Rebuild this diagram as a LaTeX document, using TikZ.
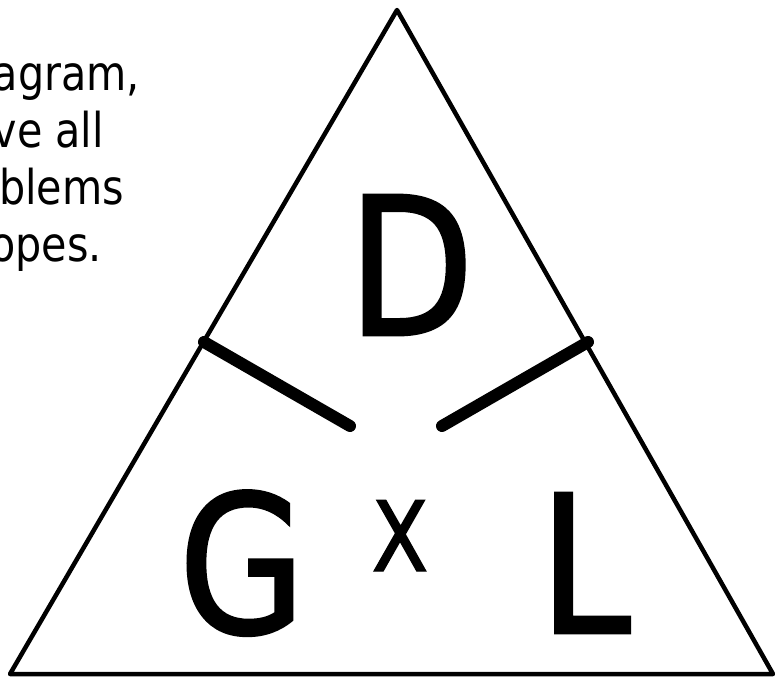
\documentclass[tikz,border=0pt]{standalone}
\usepackage{fontspec}
\setmainfont{DejaVu Sans}[FakeStretch=0.86]
\newfontfamily\bigfont{DejaVu Sans}[FakeStretch=0.85, FakeBold=1.5]
\tikzset{
  edge/.style={line width=4.5pt, line join=round},
  tick/.style={line width=12pt, line cap=round},
  caption/.style={anchor=base east, inner sep=0pt, font=\fontsize{48pt}{56pt}\selectfont},
  bigletter/.style={anchor=base, inner sep=0pt, font=\bigfont\fontsize{192pt}{200pt}\selectfont},
  smallletter/.style={anchor=base, inner sep=0pt, font=\bigfont\fontsize{97pt}{100pt}\selectfont}
}
\begin{document}
\begin{tikzpicture}[x=1pt, y=-1pt]
\useasboundingbox (0,0) rectangle (775,678);
\fill[white] (0,0) rectangle (775,678);
\coordinate (apex) at (397,10);
\coordinate (bl) at (10,674);
\coordinate (br) at (773,674);
\draw[edge] (apex) -- (bl) -- (br) -- cycle;
\coordinate (lt1) at (204,342);
\coordinate (lt2) at (350,426);
\coordinate (rt1) at (588,342);
\coordinate (rt2) at (442,426);
\draw[tick] (lt1) -- (lt2);
\draw[tick] (rt1) -- (rt2);
\node[caption] (c1) at (140,90) {agram,};
\node[caption] (c2) at (104,147) {ve all};
\node[caption] (c3) at (124,204) {blems};
\node[caption] (c4) at (102,261) {opes.};
\node[bigletter] (D) at (411,335) {D};
\node[bigletter] (G) at (242,633) {G};
\node[bigletter] (L) at (585,633) {L};
\node[smallletter] (X) at (400,571) {X};
\end{tikzpicture}
\end{document}
